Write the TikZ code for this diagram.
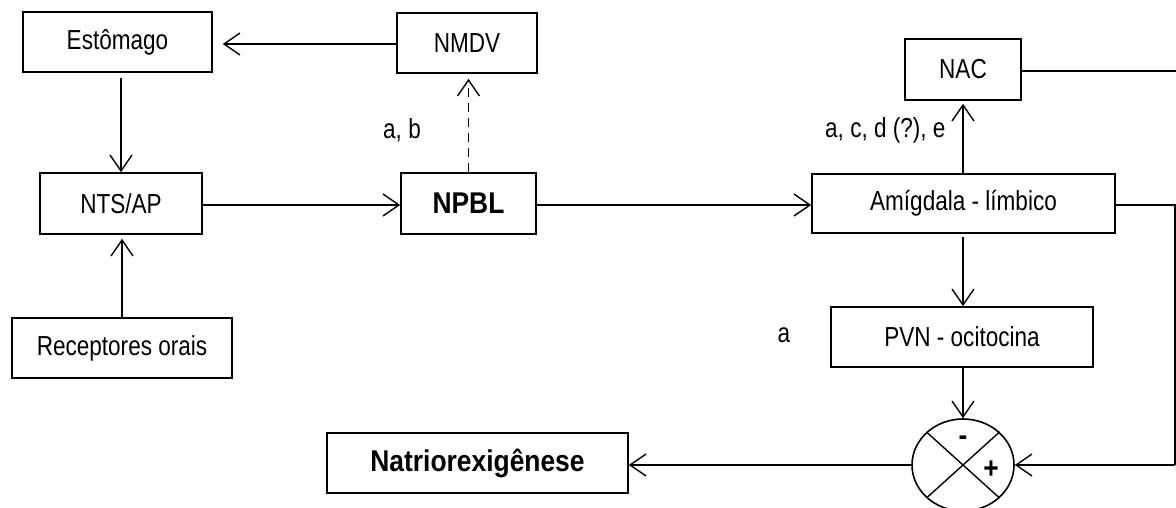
\documentclass[tikz,border=0pt]{standalone}
\usepackage{fontspec}
\setmainfont{Liberation Sans}[FakeStretch=0.82]
\newfontfamily\boldn{Liberation Sans}[FakeStretch=0.88]
\usetikzlibrary{arrows.meta,shapes.geometric}
\begin{document}
\begin{tikzpicture}[x=1pt,y=-1pt,
  box/.style={draw,line width=1.6pt,rectangle,inner sep=0pt,font=\fontsize{27.5}{32}\selectfont},
  bbox/.style={box,font=\boldn\fontsize{30}{34}\selectfont\bfseries},
  lbl/.style={inner sep=0pt,font=\fontsize{27.5}{32}\selectfont},
  arr/.style={line width=1.4pt,-{Straight Barb[length=16pt,width=22pt,line width=1.4pt]}},
  ln/.style={line width=1.4pt}]
\useasboundingbox (0,0) rectangle (1176,508);
\node[box,minimum width=189pt,minimum height=60pt] (est) at (117.5,42) {Estômago};
\node[box,minimum width=140pt,minimum height=60pt] (nmdv) at (467,43) {NMDV};
\node[box,minimum width=162pt,minimum height=61pt] (nts) at (121,203.5) {NTS/AP};
\node[bbox,minimum width=135pt,minimum height=61pt] (npbl) at (468.5,203.5) {NPBL};
\node[box,minimum width=220pt,minimum height=60pt] (rec) at (122,348) {Receptores orais};
\node[box,minimum width=116pt,minimum height=61pt] (nac) at (963,69.5) {NAC};
\node[box,minimum width=303pt,minimum height=59pt] (amy) at (963.5,203.5) {Amígdala - límbico};
\node[box,minimum width=262pt,minimum height=60pt] (pvn) at (962,337) {PVN - ocitocina};
\node[bbox,minimum width=301pt,minimum height=60pt] (nat) at (477.5,463) {Natriorexigênese};
\node[ellipse,draw,line width=1.6pt,minimum width=102pt,minimum height=92pt,inner sep=0pt] (sum) at (963,465) {};
\draw[line width=1.4pt] (sum.north west) -- (sum.south east);
\draw[line width=1.4pt] (sum.north east) -- (sum.south west);
\node[inner sep=0pt,font=\boldn\fontsize{30}{34}\selectfont\bfseries] (minus) at (963,441) {-};
\node[inner sep=0pt,font=\boldn\fontsize{30}{34}\selectfont\bfseries] (plus) at (991,470) {+};
\node[lbl] (lab) at (402,130) {a, b};
\node[lbl,anchor=west] (lacde) at (825,130) {a, c, d (?), e};
\node[lbl] (la) at (784,335) {a};
\coordinate (r1) at (1176,71);
\coordinate (r2) at (1175,205);
\coordinate (r3) at (1175,465);
% connectors
\draw[arr] (nmdv.west |- 0,44) -- ([xshift=10pt]est.east |- 0,44);
\draw[arr] ([yshift=-5pt]est.south -| nts.north) -- (nts.north);
\draw[arr] (rec.north) -- ([yshift=-4pt]nts.south -| rec.north);
\draw[arr] (nts.east |- 0,205) -- (npbl.west |- 0,205);
\draw[arr,dashed,dash pattern=on 9pt off 6pt] (npbl.north) -- ([yshift=-5pt]nmdv.south -| npbl.north);
\draw[arr] (npbl.east |- 0,205) -- (amy.west |- 0,205);
\draw[arr] (amy.north -| nac.south) -- ([yshift=-3pt]nac.south);
\draw[ln] (nac.east |- r1) -- (r1);
\draw[arr] ([yshift=-3pt]amy.south -| nac.south) -- (pvn.north -| nac.south);
\draw[arr] (pvn.south -| sum.north) -- (sum.north);
\draw[ln] (amy.east |- r2) -- (r2) -- (r3);
\draw[arr] (r3) -- (sum.east);
\draw[arr] (sum.west) -- (sum.west -| nat.east);
\end{tikzpicture}
\end{document}
